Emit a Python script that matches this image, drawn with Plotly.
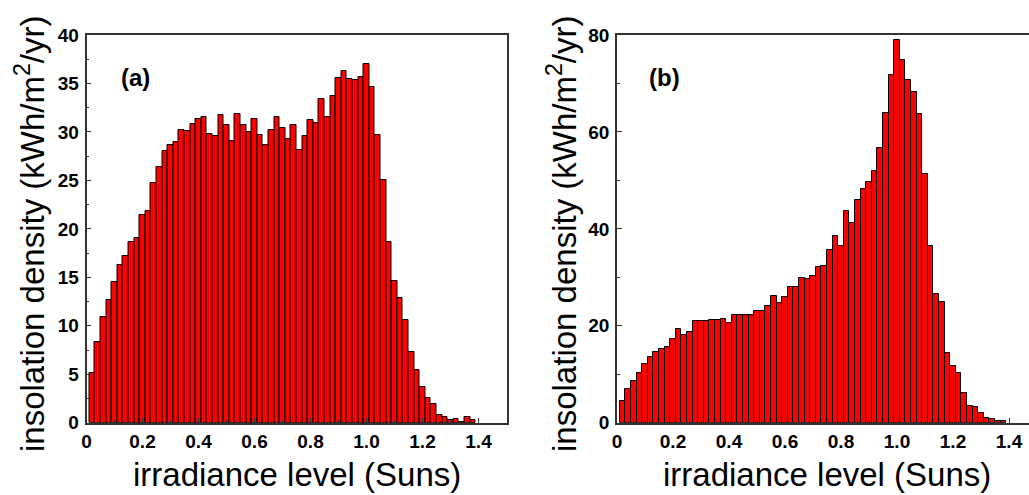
import plotly.graph_objects as go

# bin centers (Suns), bin width 0.02
bin_width = 0.02
a_values = [5.1, 8.3, 10.9, 12.7, 14.5, 16.3, 17.2, 18.6, 19.1, 21.4,
            21.8, 24.7, 26.4, 28.0, 28.6, 29.0, 30.2, 30.1, 30.8, 31.3,
            31.5, 29.8, 29.6, 31.7, 30.7, 29.1, 31.9, 30.7, 30.0, 31.3,
            29.7, 28.7, 30.2, 31.5, 30.4, 29.3, 30.7, 28.1, 29.6, 31.2,
            30.9, 33.4, 31.5, 33.7, 35.6, 36.3, 35.5, 35.4, 35.7, 37.0,
            34.6, 29.7, 25.0, 18.6, 14.6, 12.9, 10.6, 7.3, 5.4, 3.65,
            2.5, 1.96, 0.79, 0.55, 0.28, 0.38, 0.07, 0.58, 0.28]
b_values = [4.5, 7.0, 8.7, 10.3, 12.2, 13.5, 14.5, 15.2, 15.6, 17.2,
            19.4, 18.2, 18.7, 20.9, 21.05, 20.9, 21.2, 21.2, 21.5, 20.6,
            22.15, 22.2, 22.2, 22.2, 23.0, 23.0, 24.0, 26.1, 24.8, 25.9,
            27.9, 28.1, 29.8, 29.6, 30.3, 32.2, 32.3, 35.7, 38.6, 36.4,
            43.6, 41.2, 45.9, 48.2, 49.7, 51.9, 56.6, 63.9, 71.7, 79.0,
            74.8, 70.7, 68.3, 63.7, 51.3, 36.4, 26.5, 25.0, 14.3, 11.6,
            10.2, 6.05, 3.5, 3.16, 1.93, 1.03, 0.69, 0.28, 0.28]
a_x = [round(bin_width * (i + 1), 2) for i in range(len(a_values))]
b_x = [round(bin_width * (i + 1), 2) for i in range(len(b_values))]

x_ticks = [0, 0.2, 0.4, 0.6, 0.8, 1.0, 1.2, 1.4]
x_tick_labels = ["0", "0.2", "0.4", "0.6", "0.8", "1.0", "1.2", "1.4"]
a_y_ticks = [0, 5, 10, 15, 20, 25, 30, 35, 40]
b_y_ticks = [0, 20, 40, 60, 80]

x_title = "irradiance level (Suns)"
y_title = "insolation density (kWh/m<sup>2</sup>/yr)"

W, H = 1029, 495
FONT = "Arial, Liberation Sans, sans-serif"
AXC = "#333333"

fig = go.Figure()
bar_style = dict(marker=dict(color="#ff0000", line=dict(color="#000000", width=1)),
                 width=bin_width, showlegend=False, hoverinfo="x+y")
fig.add_trace(go.Bar(x=a_x, y=a_values, xaxis="x", yaxis="y", **bar_style))
fig.add_trace(go.Bar(x=b_x, y=b_values, xaxis="x2", yaxis="y2", **bar_style))

# pixel geometry
ax_l, ax_r = 86.5, 506.5
bx_l = 617.0
px_per_unit = (ax_r - ax_l) / 1.5
b_xmax = (W - bx_l) / px_per_unit
y_top, y_bot = 35.0, 422.7
ydom = [(H - y_bot) / H, (H - y_top) / H]

tickfont = dict(family=FONT, size=19, color="#000000", weight="bold")
xcommon = dict(tickvals=x_ticks, ticktext=x_tick_labels, ticks="inside", ticklen=5,
               tickwidth=1.3, tickcolor=AXC, showline=True, linecolor=AXC, linewidth=1.5,
               showgrid=False, zeroline=False, automargin=False,
               minor=dict(ticks="inside", ticklen=3, tickwidth=1.2, tickcolor=AXC, dtick=0.1, tick0=0, showgrid=False),
               tickfont=tickfont, ticklabelstandoff=1)
ycommon = dict(ticks="inside", ticklen=5, tickwidth=1.3, tickcolor=AXC, showline=True,
               linecolor=AXC, linewidth=1.5, showgrid=False, zeroline=False, automargin=False,
               tickfont=tickfont, ticklabelstandoff=2)

fig.update_layout(
    width=W, height=H,
    margin=dict(l=0, r=0, t=0, b=0, pad=0, autoexpand=False),
    paper_bgcolor="white", plot_bgcolor="white",
    bargap=0,
    xaxis=dict(domain=[ax_l / W, ax_r / W], range=[0, 1.5], anchor="y", mirror=True, **xcommon),
    yaxis=dict(domain=ydom, range=[0, 40], anchor="x", tickvals=a_y_ticks, mirror=True,
               minor=dict(ticks="inside", ticklen=3, tickwidth=1.2, tickcolor=AXC, dtick=2.5, tick0=0, showgrid=False),
               **ycommon),
    xaxis2=dict(domain=[bx_l / W, 1.0], range=[0, b_xmax], anchor="y2", mirror=True, **xcommon),
    yaxis2=dict(domain=ydom, range=[0, 80], anchor="x2", tickvals=b_y_ticks, mirror=False,
                minor=dict(ticks="inside", ticklen=3, tickwidth=1.2, tickcolor=AXC, dtick=10, tick0=0, showgrid=False),
                **ycommon),
)

title_font = dict(family=FONT, size=33, color="#000000")
annotations = [
    dict(text=x_title, x=(ax_l + ax_r) / 2 / W, y=(H - 474) / H),
    dict(text=x_title, x=(bx_l + 0.75 * px_per_unit) / W, y=(H - 474) / H),
    dict(text=y_title, x=30 / W, y=(H - 234) / H, textangle=-90),
    dict(text=y_title, x=562 / W, y=(H - 234) / H, textangle=-90),
]
for ann in annotations:
    fig.add_annotation(xref="paper", yref="paper", showarrow=False, font=title_font,
                       xanchor="center", yanchor="middle", **ann)

label_font = dict(family=FONT, size=24, color="#000000", weight="bold")
fig.add_annotation(text="(a)", xref="paper", yref="paper", x=135 / W, y=(H - 77) / H,
                   showarrow=False, font=label_font, xanchor="center", yanchor="middle")
fig.add_annotation(text="(b)", xref="paper", yref="paper", x=664 / W, y=(H - 77) / H,
                   showarrow=False, font=label_font, xanchor="center", yanchor="middle")

fig.write_html("out.html")
